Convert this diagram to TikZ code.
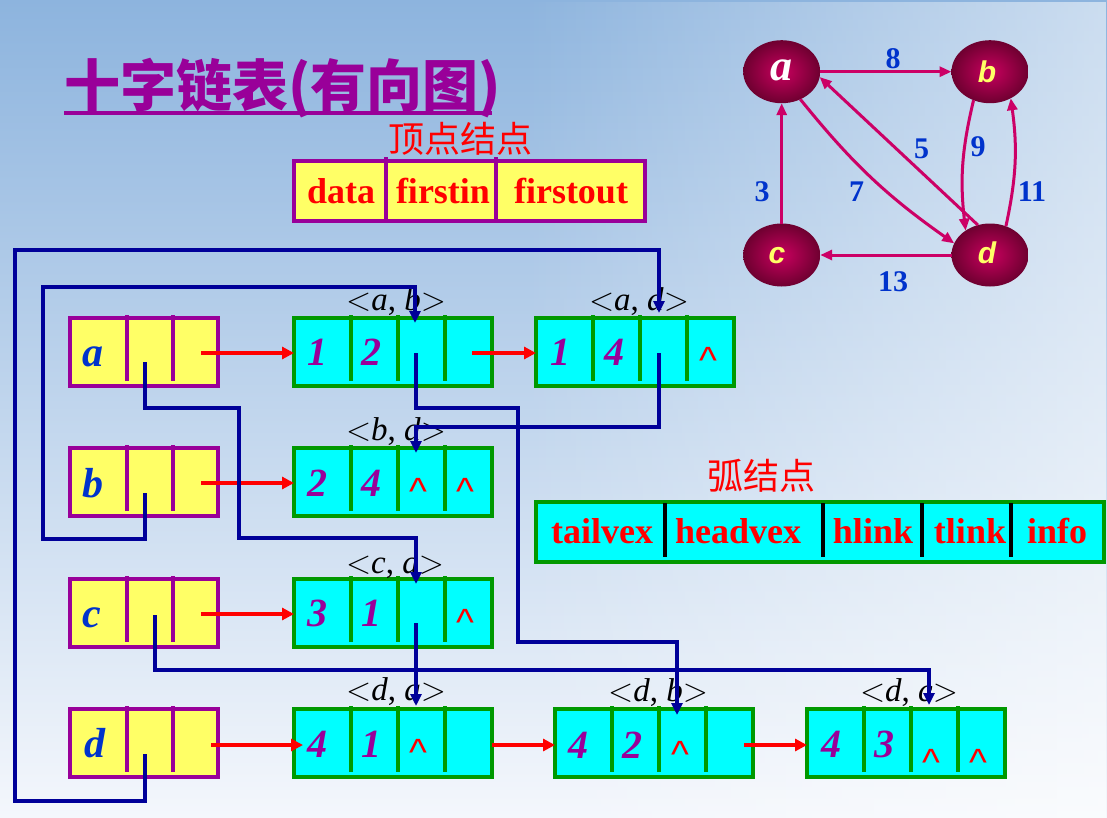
\RequirePackage{fix-cm}
\documentclass[tikz,border=0pt]{standalone}
\usepackage{fontspec}
\setmainfont{Liberation Serif}
\setsansfont{Liberation Sans}
\newfontfamily\cjk{Noto Sans CJK SC}
\usetikzlibrary{arrows.meta,shapes.geometric,fadings}
\definecolor{vpurple}{HTML}{990099}
\definecolor{vyellow}{HTML}{FFFF66}
\definecolor{acyan}{HTML}{00FFFF}
\definecolor{agreen}{HTML}{009900}
\definecolor{lblue}{HTML}{000099}
\definecolor{tblue}{HTML}{0033CC}
\definecolor{gred}{HTML}{CC0066}
\definecolor{gnin}{HTML}{C8005E}
\definecolor{gnout}{HTML}{6E0030}
\definecolor{gyel}{HTML}{FFFF66}
\definecolor{bgtop}{HTML}{8DB4DE}
\definecolor{bgbot}{HTML}{F4F7FC}
\newcommand\myfs[1]{\fontsize{#1pt}{#1pt}\selectfont}
\newcommand\edgelbl[2]{$<$\textit{#1}, \textit{#2}$>$}
\begin{document}
\begin{tikzpicture}[x=1pt,y=-1pt,
  txt/.style={inner sep=0pt, outer sep=0pt, anchor=base},
  vbox/.style={draw=vpurple, fill=vyellow, line width=4pt, minimum width=148pt, minimum height=68pt, inner sep=0pt, outer sep=0pt, anchor=north west},
  abox/.style={draw=agreen, fill=acyan, line width=4pt, minimum width=198pt, minimum height=68pt, inner sep=0pt, outer sep=0pt, anchor=north west},
  vdivl/.style={vpurple, line width=4pt},
  adivl/.style={agreen, line width=4pt},
  rarrow/.style={red, line width=4pt, -{Triangle[length=12pt,width=12pt]}},
  barrow/.style={lblue, line width=4pt, -{Triangle[length=12pt,width=11pt]}},
  gnode/.style={ellipse, minimum width=77pt, minimum height=63pt, inner sep=0pt, outer sep=0pt, shading=radial, inner color=gnin, outer color=gnout},
  gline/.style={gred, line width=3pt, -{Triangle[length=12pt,width=10pt]}},
  vlet/.style={txt, text=tblue, font=\bfseries\itshape\myfs{42}},
  dig/.style={txt, text=vpurple, font=\bfseries\itshape\myfs{40}},
  car/.style={txt, text=red, font=\sffamily\myfs{38}},
  lab/.style={txt, text=black, font=\myfs{33}},
  fld/.style={txt, text=red, font=\bfseries\myfs{36}},
  glab/.style={txt, text=tblue, font=\bfseries\myfs{30}},
  cjklab/.style={txt, text=red, font=\cjk\myfs{36}},
]
\useasboundingbox (0,0) rectangle (1107,817);
% background
\fill[top color=bgtop, bottom color=bgbot] (0,0) rectangle (1107,817);
\fill[white, path fading=west, opacity=0.55] (520,0) rectangle (1107,817);

% title
\node[txt, anchor=base west, text=vpurple, font=\cjk\bfseries\myfs{56}] (title) at (64,106) {十字链表(有向图)};
\draw[vpurple, line width=4pt] (64,113) -- (492,113);

% vertex node template
\node[cjklab] (vtl) at (460,152.5) {顶点结点};
\node[vbox, minimum width=351pt, minimum height=60pt] (vt) at (294,161) {};
\draw[vdivl] (386,157) -- (386,221);
\draw[vdivl] (496,157) -- (496,221);
\node[fld] (f1) at (341,203) {data};
\node[fld] (f2) at (443,203) {firstin};
\node[fld] (f3) at (571,203) {firstout};

% arc node template
\node[cjklab] (atl) at (761,489) {弧结点};
\node[abox, minimum width=568pt, minimum height=60pt] (at) at (536,502) {};
\foreach \xx in {665,823,922,1011} \draw[black, line width=3.5pt] (\xx,503) -- (\xx,557);
\node[fld] (g1) at (602,543) {tailvex};
\node[fld] (g2) at (738,543) {headvex};
\node[fld] (g3) at (873,543) {hlink};
\node[fld] (g4) at (970,543) {tlink};
\node[fld] (g5) at (1057,543) {info};

% vertex boxes
\foreach \nm/\yy in {va/318, vb/448, vc/579, vd/709}{
  \node[vbox] (\nm) at (70,\yy) {};
  \draw[vdivl] (127,\yy-3) -- (127,\yy+63);
  \draw[vdivl] (173,\yy-3) -- (173,\yy+63);
}
\node[vlet] (la) at (93,366) {a};
\node[vlet] (lb) at (93,497) {b};
\node[vlet] (lc) at (92,627) {c};
\node[vlet] (ld) at (95,757) {d};

% arc boxes
\foreach \nm/\xx/\yy in {ab/294/318, ad/536/318, bd/294/448, ca/294/579, da/294/709, db/555/709, dc/807/709}{
  \node[abox] (\nm) at (\xx,\yy) {};
  \foreach \dd in {57,104,151} \draw[adivl] (\xx+\dd,\yy-3) -- (\xx+\dd,\yy+63);
}
% digits
\node[dig] (n1) at (317,365) {1};
\node[dig] (n2) at (371,365) {2};
\node[dig] (n3) at (560,365) {1};
\node[dig] (n4) at (614,365) {4};
\node[dig] (n5) at (317,496) {2};
\node[dig] (n6) at (371,496) {4};
\node[dig] (n7) at (317,626) {3};
\node[dig] (n8) at (371,626) {1};
\node[dig] (n9) at (317,757) {4};
\node[dig] (n10) at (371,757) {1};
\node[dig] (n11) at (578,758) {4};
\node[dig] (n12) at (632,758) {2};
\node[dig] (n13) at (831,757) {4};
\node[dig] (n14) at (884,757) {3};
% null markers
\node[car] (c1) at (708,373) {\textasciicircum};
\node[car] (c2) at (418,504) {\textasciicircum};
\node[car] (c3) at (465,504) {\textasciicircum};
\node[car] (c4) at (465,635) {\textasciicircum};
\node[car] (c5) at (418,765) {\textasciicircum};
\node[car] (c6) at (680,767) {\textasciicircum};
\node[car] (c7) at (931,775) {\textasciicircum};
\node[car] (c8) at (978,775) {\textasciicircum};
% arc labels
\node[lab] (e1) at (396,310) {\edgelbl{a}{b}};
\node[lab] (e2) at (639,310) {\edgelbl{a}{d}};
\node[lab] (e3) at (396,440) {\edgelbl{b}{d}};
\node[lab] (e4) at (395,573) {\edgelbl{c}{a}};
\node[lab] (e5) at (396,700) {\edgelbl{d}{a}};
\node[lab] (e6) at (658,701) {\edgelbl{d}{b}};
\node[lab] (e7) at (909,701) {\edgelbl{d}{c}};

% red tlink / firstout arrows
\draw[rarrow] ([xshift=-17pt,yshift=-1pt]va.east) -- ([yshift=-1pt]ab.west);
\draw[rarrow] ([xshift=-17pt,yshift=-1pt]vb.east) -- ([yshift=-1pt]bd.west);
\draw[rarrow] ([xshift=-17pt,yshift=-1pt]vc.east) -- ([yshift=-1pt]ca.west);
\draw[rarrow] ([xshift=-7pt,yshift=-2pt]vd.east) -- ([xshift=9pt,yshift=-2pt]da.west);
\draw[rarrow] ([xshift=-20pt,yshift=-1pt]ab.east) -- ([yshift=-1pt]ad.west);
\draw[rarrow] ([yshift=-2pt]da.east) -- ([yshift=-2pt]db.west);
\draw[rarrow] ([xshift=-9pt,yshift=-2pt]db.east) -- ([yshift=-2pt]dc.west);

% blue firstin / hlink pointers
\coordinate (pa) at (145,362);
\coordinate (pb) at (145,493);
\coordinate (pc) at (155,615);
\coordinate (pd) at (145,754);
\coordinate (pab) at (416,353);
\coordinate (pad) at (659,353);
\coordinate (pca) at (416,623);
\coordinate (tab) at ([xshift=121pt,yshift=-5pt]ab.north west);
\coordinate (tad) at ([xshift=123pt,yshift=5pt]ad.north west);
\coordinate (tbd) at ([xshift=122pt,yshift=-5pt]bd.north west);
\coordinate (tca) at ([xshift=122pt,yshift=-5pt]ca.north west);
\coordinate (tda) at ([xshift=122pt,yshift=3pt]da.north west);
\coordinate (tdb) at ([xshift=122pt,yshift=-6pt]db.north west);
\coordinate (tdc) at ([xshift=122pt,yshift=4pt]dc.north west);
\draw[barrow] (pd) |- (15,801) -- (15,250) -| (tad);
\draw[barrow] (pb) |- (43,539) -- (43,287) -| (tab);
\draw[barrow] (pa) |- (239,408) -- (239,538) -| (tca);
\draw[barrow] (pc) -- (155,670) -| (tdc);
\draw[barrow] (pab) |- (518,408) -- (518,642) -| (tdb);
\draw[barrow] (pad) -- (659,427) -| (tbd);
\draw[barrow] (pca) -- (tda);

% graph
\node[gnode] (ga) at (781.7,71.7) {};
\node[gnode] (gb) at (990,71.7) {};
\node[gnode] (gc) at (781.7,255) {};
\node[gnode] (gd) at (990,255) {};
\node[txt, text=white, font=\bfseries\itshape\myfs{44}] (gla) at (781.7,80) {a};
\node[txt, text=gyel, font=\sffamily\bfseries\itshape\myfs{30}] (glb) at (987,82) {b};
\node[txt, text=gyel, font=\sffamily\bfseries\itshape\myfs{30}] (glc) at (777,263) {c};
\node[txt, text=gyel, font=\sffamily\bfseries\itshape\myfs{30}] (gld) at (987,263) {d};
\draw[gline] (ga.east) -- (gb.west);
\draw[gline] (gc.north) -- (ga.south);
\draw[gline] (gd.west) -- (gc.east);
\draw[gline] (ga.-56) to[bend right=8] (gd.162);
\draw[gline] (gd.112) -- (ga.-8);
\draw[gline] (gb.-120) to[bend right=10] (gd.135);
\draw[gline] (gd.61) to[bend right=10] (gb.-52);
\node[glab] (w8) at (893,68) {8};
\node[glab] (w3) at (762,201.7) {3};
\node[glab] (w13) at (893,291.7) {13};
\node[glab] (w5) at (921.7,158) {5};
\node[glab] (w7) at (856.7,201.7) {7};
\node[glab] (w9) at (978,156.7) {9};
\node[glab] (w11) at (1032,201.7) {11};
\end{tikzpicture}
\end{document}
